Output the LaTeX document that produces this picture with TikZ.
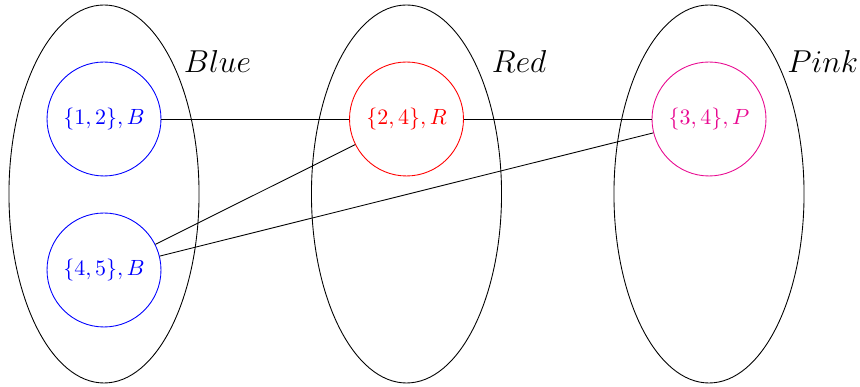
\documentclass[tikz,border=0pt]{standalone}
\usetikzlibrary{shapes.geometric}
\definecolor{pinkc}{RGB}{232,10,145}
\begin{document}
\begin{tikzpicture}[x=0.4545pt,y=-0.4545pt,
  group/.style={draw=black, ellipse, inner sep=0pt, minimum width=86.4pt, minimum height=171.8pt},
  elem/.style={draw, circle, inner sep=0pt, minimum size=51.8pt, font=\fontsize{10}{12}\selectfont},
  glabel/.style={anchor=base west, inner sep=0pt, font=\fontsize{13.8}{16}\selectfont},
  conn/.style={draw=black, line width=0.4pt}]
\useasboundingbox (0,0) rectangle (860,387);
\node[group] (gb) at (104,194) {};
\node[group] (gr) at (406.5,194) {};
\node[group] (gp) at (709,194) {};
\node[glabel] (lb) at (183.5,73) {$Blue$};
\node[glabel] (lr) at (491.5,73) {$Red$};
\node[glabel] (lp) at (787,73) {$Pink$};
\node[elem, blue, text=blue] (b12) at (104,119) {$\{1,2\},B$};
\node[elem, blue, text=blue] (b45) at (104,270) {$\{4,5\},B$};
\node[elem, red, text=red] (r24) at (406.5,119) {$\{2,4\},R$};
\node[elem, pinkc, text=pinkc] (p34) at (709,119) {$\{3,4\},P$};
\draw[conn] (b12) -- (r24);
\draw[conn] (r24) -- (p34);
\draw[conn] (b45) -- (r24);
\draw[conn] (b45) -- (p34);
\end{tikzpicture}
\end{document}
